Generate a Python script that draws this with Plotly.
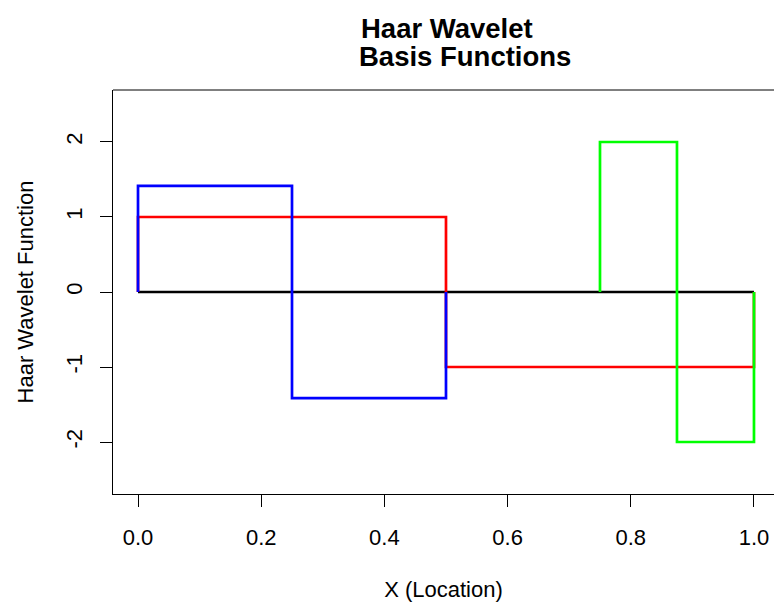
import plotly.graph_objects as go

# Data: piecewise-constant Haar functions (breakpoints and values, drawn as steps)
black_x = [0.0, 1.0]
black_y = [0.0, 0.0]

red_x = [0.0, 0.0, 0.5, 1.0, 1.0]
red_y = [0.0, 1.0, -1.0, -1.0, 0.0]

blue_x = [0.0, 0.0, 0.25, 0.5, 0.5]
blue_y = [0.0, 1.414, -1.414, -1.414, 0.0]

green_x = [0.75, 0.75, 0.875, 1.0, 1.0]
green_y = [0.0, 2.0, -2.0, -2.0, 0.0]

x_ticks = [0.0, 0.2, 0.4, 0.6, 0.8, 1.0]
x_tick_labels = ["0.0", "0.2", "0.4", "0.6", "0.8", "1.0"]
y_ticks = [-2, -1, 0, 1, 2]
y_tick_labels = ["-2", "-1", "0", "1", "2"]

FONT = "Liberation Sans, Arial, sans-serif"
LW = 2.7

fig = go.Figure()
for xs, ys, col in [(black_x, black_y, "#000000"),
                    (red_x, red_y, "#FF0000"),
                    (blue_x, blue_y, "#0000FF"),
                    (green_x, green_y, "#00FF00")]:
    fig.add_trace(go.Scatter(x=xs, y=ys, mode="lines", line_shape="hv",
                             line=dict(color=col, width=LW), showlegend=False,
                             hoverinfo="skip"))

fig.update_layout(
    width=774, height=602,
    margin=dict(l=113, r=0, t=90, b=108),
    plot_bgcolor="white", paper_bgcolor="white",
    font=dict(family=FONT, size=22, color="black"),
    xaxis=dict(range=[-0.0406, 1.0325], tickvals=x_ticks, ticktext=x_tick_labels,
               ticks="outside", ticklen=12, tickwidth=1, tickcolor="black",
               ticklabelstandoff=12,
               showline=True, linecolor="black", linewidth=1, mirror=False,
               showgrid=False, zeroline=False,
               title=dict(text="X (Location)", standoff=35,
                          font=dict(size=22))),
    yaxis=dict(range=[-2.693, 2.693], tickvals=y_ticks, ticktext=y_tick_labels,
               ticks="outside", ticklen=12, tickwidth=1, tickcolor="black",
               tickangle=-90, ticklabelstandoff=9,
               showline=True, linecolor="black", linewidth=1, mirror=False,
               showgrid=False, zeroline=False,
               title=dict(text="Haar Wavelet Function", standoff=22,
                          font=dict(size=22))),
)

# top border of the box
fig.add_shape(type="line", xref="paper", yref="paper", x0=0, x1=1, y0=1, y1=1,
              line=dict(color="black", width=1))

# two-line bold title
fig.add_annotation(text="<b>Haar Wavelet</b>", xref="paper", yref="paper",
                   x=0.505, y=1.153, xanchor="center", yanchor="middle",
                   showarrow=False, font=dict(size=27.5, family=FONT))
fig.add_annotation(text="<b>Basis Functions</b>", xref="paper", yref="paper",
                   x=0.5325, y=1.082, xanchor="center", yanchor="middle",
                   showarrow=False, font=dict(size=27.5, family=FONT))

fig.write_html(
    "out.html",
    config={"displayModeBar": False},
    post_script="document.body.style.margin='0';document.body.style.overflow='hidden';",
)
